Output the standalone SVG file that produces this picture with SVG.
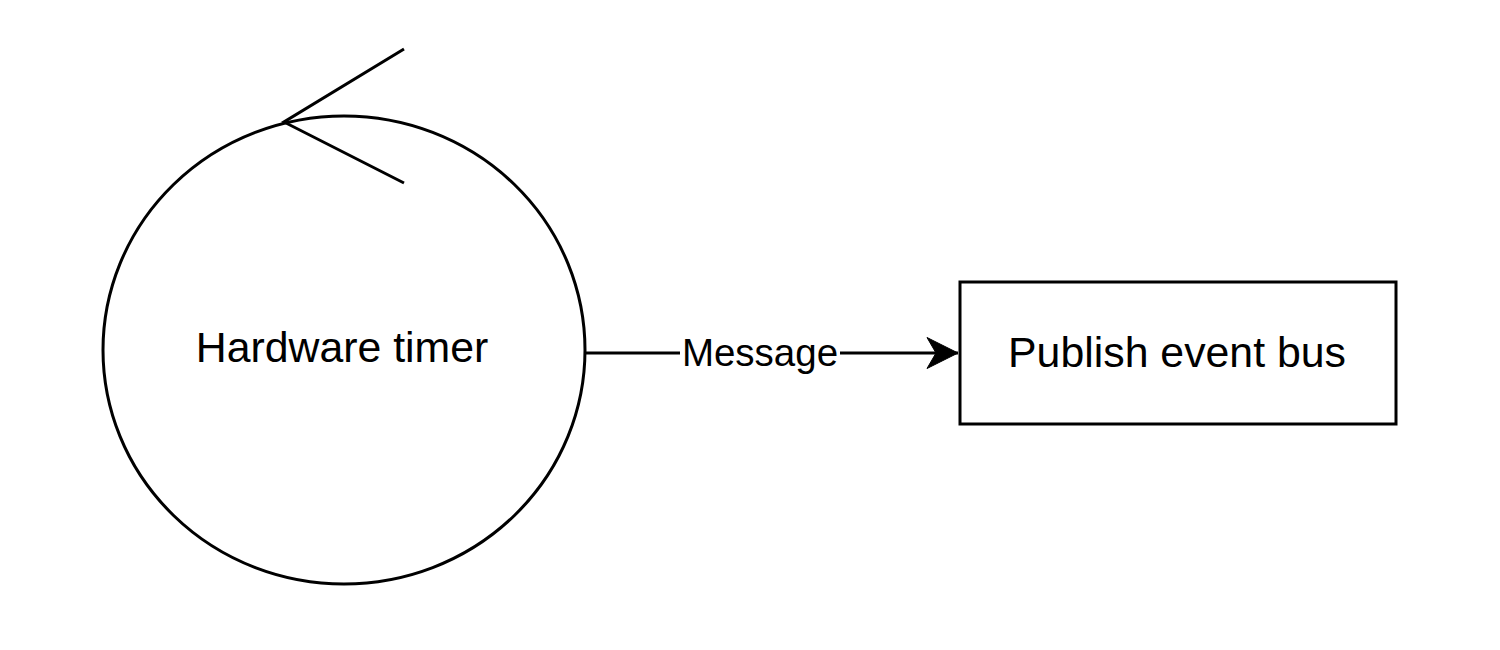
<svg xmlns="http://www.w3.org/2000/svg" width="1500" height="650" viewBox="0 0 1500 650">
  <style>
    .shape { fill: #ffffff; stroke: #000000; stroke-width: 3; }
    .edge { fill: none; stroke: #000000; stroke-width: 3; }
    .label { font-family: "Liberation Sans", Arial, sans-serif; fill: #000000; text-anchor: middle; }
  </style>
  <defs>
    <marker id="arrow" markerUnits="userSpaceOnUse" markerWidth="40" markerHeight="40" viewBox="0 0 40 40" refX="32" refY="16" orient="auto">
      <path d="M32,16 L1,0.5 L10,16 L1,31.5 Z" fill="#000000" stroke="#000000" stroke-width="1"/>
    </marker>
  </defs>
  <rect width="1500" height="650" fill="#ffffff"/>
  <g id="node-hardware-timer">
    <ellipse class="shape" cx="344" cy="350" rx="241" ry="234"/>
    <polyline class="edge" points="404,49 284,122 404,183"/>
    <text class="label" x="342" y="362" font-size="42.8">Hardware timer</text>
  </g>
  <g id="node-publish-event-bus">
    <rect class="shape" x="960" y="282" width="436" height="142"/>
    <text class="label" x="1177" y="367" font-size="42.8">Publish event bus</text>
  </g>
  <g id="connectors">
    <path class="edge" d="M585,353 L958,353" marker-end="url(#arrow)"/>
    <rect x="680" y="336" width="160" height="36" fill="#ffffff"/>
    <text class="label" x="760" y="366" font-size="38.5">Message</text>
  </g>
</svg>
